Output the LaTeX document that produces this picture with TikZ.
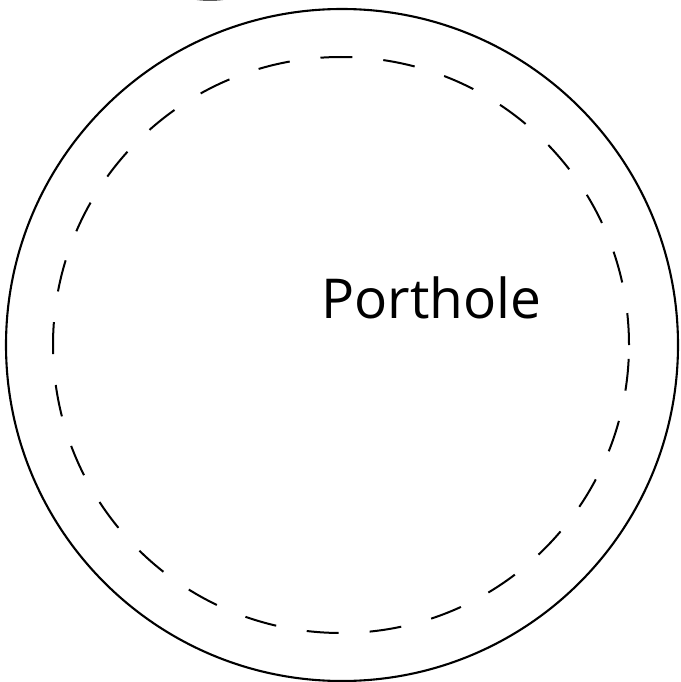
\documentclass[tikz,border=0pt]{standalone}
\usepackage{fontspec}
\setmainfont{Open Sans}
\usetikzlibrary{positioning}
\tikzset{
  rim/.style={circle,draw=black,line width=2.1pt,inner sep=0pt},
  pane/.style={circle,draw=black,line width=2pt,inner sep=0pt,dash pattern=on 32pt off 31pt},
}

\begin{document}
\begin{tikzpicture}[x=1pt,y=-1pt]
  \useasboundingbox (0,0) rectangle (680,682);
  % cut-off piece at the top
  \begin{scope}
    \clip (0,0) rectangle (680,682);
    \draw[line width=2pt] (210,-120.3) circle (120);
  \end{scope}
  % porthole
  \node[rim,minimum size=672pt] (porthole) at (342,345) {};
  \node[pane,minimum size=576pt] (glass) at (341,345) {};
  \node[font=\fontsize{55}{60}\selectfont,anchor=base west] (label) at (318,318) {Porthole};
\end{tikzpicture}
\end{document}
